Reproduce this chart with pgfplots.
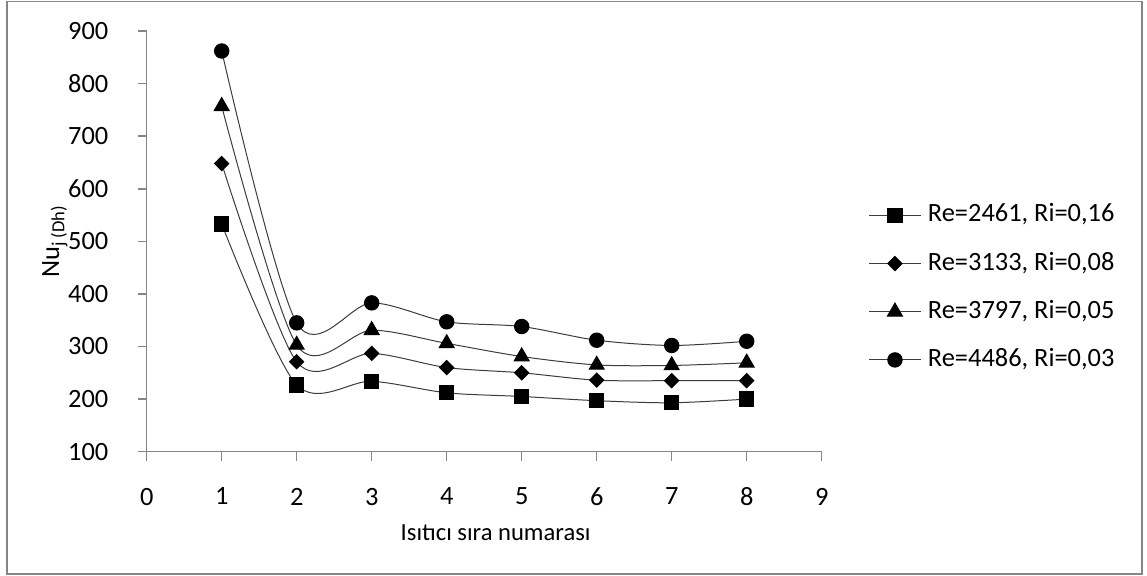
\documentclass[border=0pt]{standalone}
\usepackage{pgfplots}
\pgfplotsset{compat=1.18}
\usepackage{fontspec}
\setmainfont{Carlito}
\usetikzlibrary{plotmarks}

\definecolor{axgray}{HTML}{868686}
\definecolor{lngray}{HTML}{3C3C3C}

% Nu values per heater position (1..8) for the four Re/Ri cases
\pgfplotstableread{
x  s1   s2   s3   s4
1  533  648  757  862
2  227  271  303  345
3  234  287  331  383
4  212  260  306  347
5  205  250  281  338
6  197  236  265  312
7  193  235  264  302
8  200  235  269  310
}\nudata

\begin{document}
\begin{tikzpicture}[x=1pt,y=1pt]
\useasboundingbox (0,0) rectangle (573.5,288);
\draw[axgray, line width=0.75pt] (3.5,1) rectangle (571,287.25);
\begin{axis}[
  at={(73.35pt,62.15pt)}, anchor=origin,
  scale only axis,
  width=337.5pt, height=210.35pt,
  xmin=0, xmax=9, ymin=100, ymax=900,
  xtick={0,1,...,9}, ytick={100,200,...,900},
  axis lines=left,
  axis line style={-, draw=axgray, line width=0.75pt},
  tick style={draw=axgray, line width=0.75pt},
  tick align=outside,
  major tick length=4.5pt,
  font=\fontsize{13.2}{15}\selectfont,
  /pgf/number format/assume math mode=true,
  yticklabel style={inner sep=0pt, xshift=-14.5pt},
  xticklabel style={inner sep=0pt, yshift=-13.4pt},
  xlabel={Isıtıcı sıra numarası},
  xlabel style={font=\fontsize{12.3}{14}\selectfont, at={(axis description cs:0.517,-0.21)}, anchor=base},
  ylabel={Nu\textsubscript{j (Dh)}},
  ylabel style={at={(axis description cs:-0.136,0.5)}, anchor=center},
  clip=false,
  legend cell align=left,
  legend style={draw=none, fill=none, at={(axis description cs:1.070,0.390)},
    anchor=west, inner sep=0pt, outer sep=0pt,
    nodes={inner sep=0pt, text height=9pt, text depth=2.5pt},
    row sep=12.6pt,
    /tikz/every odd column/.append style={column sep=3.5pt}},
  legend image code/.code={%
    \draw[mark repeat=2,mark phase=2] plot coordinates {(0pt,0pt) (12.75pt,0pt) (25.5pt,0pt)};},
  every axis plot/.append style={draw=lngray, line width=0.5pt, smooth, tension=0.5},
]
\addplot[mark=square*, mark size=3.6pt, mark options={draw=black, fill=black, solid}] table[x=x,y=s1] {\nudata};
\addlegendentry{Re=2461, Ri=0,16}
\addplot[mark=square*, mark size=2.5pt, mark options={draw=black, fill=black, rotate=45, solid}] table[x=x,y=s2] {\nudata};
\addlegendentry{Re=3133, Ri=0,08}
\addplot[mark=triangle*, mark size=4.3pt, mark options={draw=black, fill=black, solid}] table[x=x,y=s3] {\nudata};
\addlegendentry{Re=3797, Ri=0,05}
\addplot[mark=*, mark size=3.6pt, mark options={draw=black, fill=black, solid}] table[x=x,y=s4] {\nudata};
\addlegendentry{Re=4486, Ri=0,03}
\end{axis}
\end{tikzpicture}
\end{document}
